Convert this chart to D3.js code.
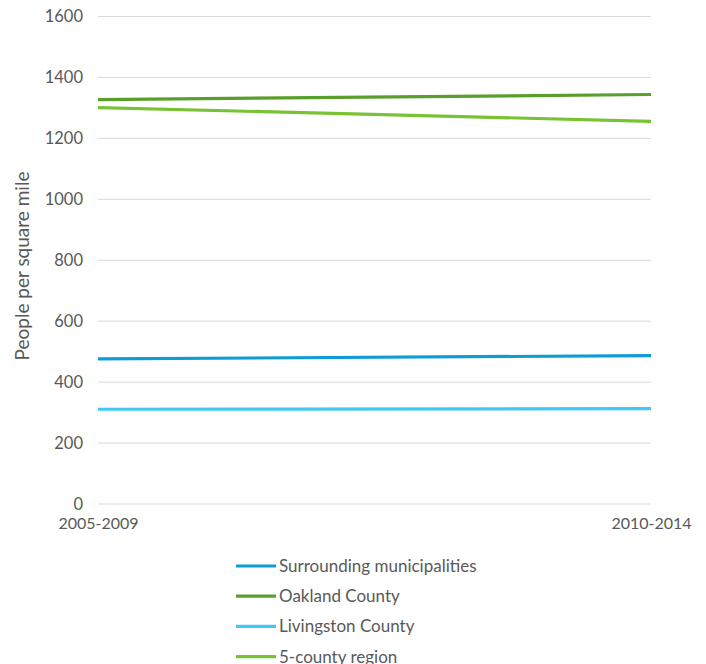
<!DOCTYPE html>
<html><head><meta charset="utf-8">
<script src="https://cdn.jsdelivr.net/npm/d3@7/dist/d3.min.js"></script>
<style>body{margin:0;background:#fff}svg{display:block}text{font-family:Lato,"Open Sans",sans-serif;fill:#595959}</style>
</head><body><svg id="c" width="706" height="664"></svg>
<script>
const categories = ["2005-2009", "2010-2014"];
const seriesNames = ["Surrounding municipalities", "Oakland County", "Livingston County", "5-county region"];
const surrounding = [476, 487];
const oakland = [1327, 1344];
const livingston = [311, 313];
const fiveCounty = [1301, 1256];
const yTicks = [0, 200, 400, 600, 800, 1000, 1200, 1400, 1600];
const colors = ["#0E9CD6", "#5A9E2C", "#42C8F4", "#78C234"];

const series = [surrounding, oakland, livingston, fiveCounty].map((v, i) => ({name: seriesNames[i], values: v, color: colors[i]}));
const svg = d3.select("#c");
const x = d3.scalePoint().domain(categories).range([98, 651]);
const y = d3.scaleLinear().domain([0, 1600]).range([504, 16.5]);

const g = svg.append("g");
g.selectAll("line.grid").data(yTicks).join("line")
  .attr("x1", 98).attr("x2", 651).attr("y1", d => y(d)).attr("y2", d => y(d))
  .attr("stroke", "#d9d9d9").attr("stroke-width", 1);

const yAxis = svg.append("g").attr("transform", "translate(98,0)")
  .call(d3.axisLeft(y).tickValues(yTicks).tickFormat(d3.format("d")).tickSize(0).tickPadding(15));
yAxis.select(".domain").remove();
yAxis.selectAll("text").style("font-size", "16.5px").attr("fill", "#595959").style("font-family", "Lato");

const xAxis = svg.append("g").attr("transform", "translate(0,504)")
  .call(d3.axisBottom(x).tickSize(0).tickPadding(14));
xAxis.select(".domain").remove();
xAxis.selectAll("text").style("font-size", "16px").attr("fill", "#595959").style("font-family", "Lato");

svg.append("text").attr("transform", "translate(29,266) rotate(-90)")
  .attr("text-anchor", "middle").style("font-size", "19px").text("People per square mile");

const line = d3.line().x((d, i) => x(categories[i])).y(d => y(d));
svg.selectAll("path.s").data(series).join("path")
  .attr("d", d => line(d.values)).attr("fill", "none")
  .attr("stroke", d => d.color).attr("stroke-width", 3.2);

const leg = svg.selectAll("g.leg").data(series).join("g")
  .attr("transform", (d, i) => `translate(236,${566 + i * 30.2})`);
leg.append("line").attr("x1", 0).attr("x2", 40).attr("stroke", d => d.color).attr("stroke-width", 3.2);
leg.append("text").attr("x", 43).attr("dy", "0.35em").style("font-size", "17px").text(d => d.name);
</script></body></html>
